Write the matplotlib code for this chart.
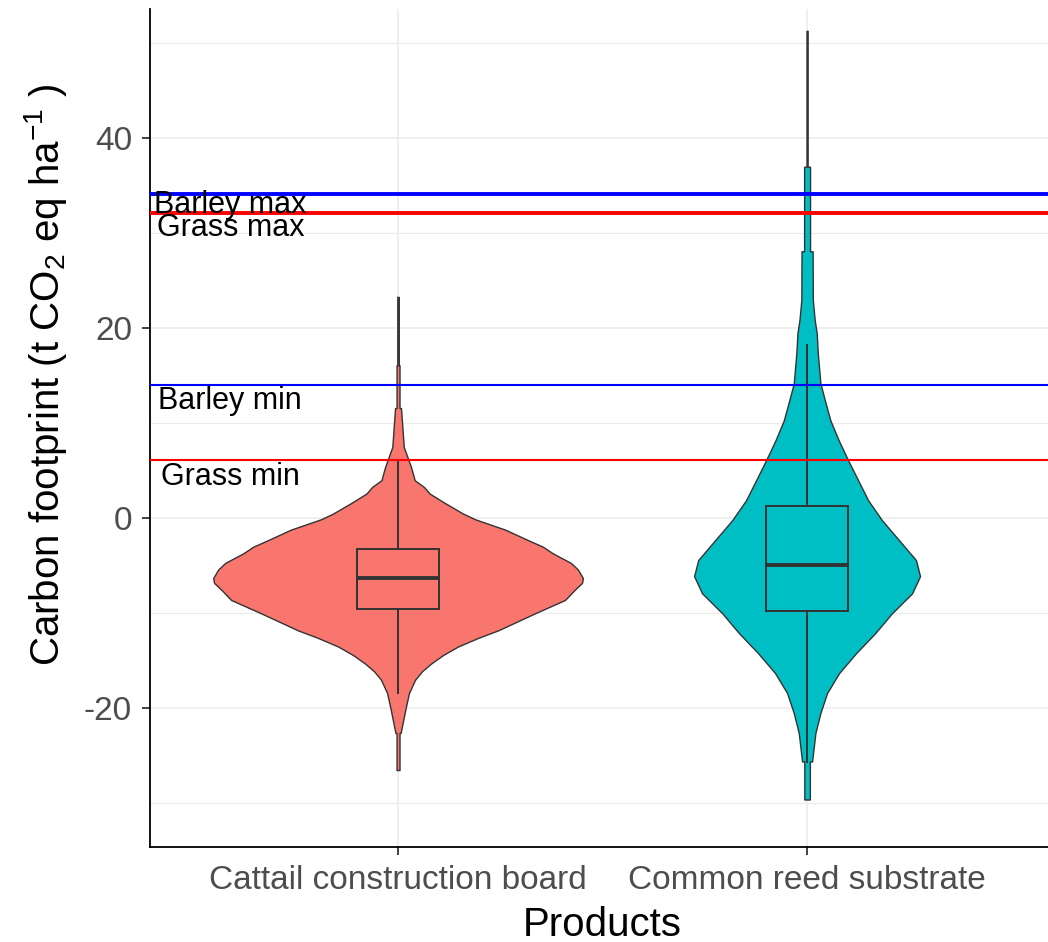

import numpy as np
import matplotlib
matplotlib.use("Agg")
import matplotlib.pyplot as plt

plt.rcParams['font.family'] = ['Liberation Sans', 'DejaVu Sans']
plt.rcParams['mathtext.fontset'] = 'custom'
plt.rcParams['mathtext.rm'] = 'Liberation Sans'
plt.rcParams['mathtext.it'] = 'Liberation Sans:italic'
plt.rcParams['mathtext.bf'] = 'Liberation Sans:bold'
plt.rcParams['axes.unicode_minus'] = False

# 产品类别与颜色
products = ['Cattail construction board', 'Common reed substrate']
colors = ['#F8766D', '#00BFC4']

# 小提琴轮廓：y 值与相对密度
cattail_y = [23.3, 16.1, 16.1, 11.6, 11.6, 7.5, 6.1, 5.4, 4.0, 3.3, 2.6, 1.6,
             0.5, -0.1, -1.2, -2.3, -3.0, -3.7, -4.7, -5.4, -6.3, -6.8, -7.5,
             -8.6, -10.0, -11.8, -12.6, -13.5, -14.4, -15.3, -16.1, -17.0,
             -18.4, -20.0, -22.6, -22.6, -26.5]
cattail_dens = [0.004, 0.004, 0.008, 0.008, 0.016, 0.031, 0.057, 0.070, 0.090,
                0.140, 0.171, 0.254, 0.351, 0.416, 0.580, 0.703, 0.784, 0.838,
                0.935, 0.973, 1.000, 0.995, 0.957, 0.903, 0.741, 0.541, 0.432,
                0.324, 0.243, 0.178, 0.130, 0.092, 0.059, 0.041, 0.014, 0.008,
                0.008]

reed_y = [51.3, 37.0, 37.0, 28.1, 28.1, 23.0, 20.9, 19.5, 17.4, 14.2, 12.5, 10.3,
          8.2, 6.1, 4.0, 1.9, -0.2, -2.3, -4.4, -6.1, -7.9, -10.0, -12.1, -14.2,
          -16.3, -18.4, -20.5, -22.6, -25.6, -25.6, -29.6]
reed_dens = [0.003, 0.003, 0.016, 0.016, 0.030, 0.031, 0.041, 0.052, 0.058,
             0.072, 0.095, 0.126, 0.171, 0.222, 0.276, 0.330, 0.405, 0.497,
             0.589, 0.611, 0.568, 0.459, 0.368, 0.265, 0.173, 0.108, 0.072,
             0.045, 0.027, 0.015, 0.015]

# 箱线图统计量
box_q1 = [-9.6, -9.8]
box_med = [-6.25, -4.9]
box_q3 = [-3.25, 1.3]
box_lo = [-18.4, -25.7]
box_hi = [6.0, 18.2]

# 参考线
ref_labels = ['Barley max', 'Grass max', 'Barley min', 'Grass min']
ref_values = [34.1, 32.1, 14.0, 6.1]
ref_colors = ['#0000FF', '#FF0000', '#0000FF', '#FF0000']
ref_widths = [2.8, 2.8, 1.5, 1.5]
label_baselines = [32.1, 29.7, 11.5, 3.5]

fig = plt.figure(figsize=(10.48, 9.42), dpi=100)
ax = fig.add_axes([150 / 1048, 1 - 847 / 942, 898 / 1048, 838 / 942])

# 网格
for v in [-20, 0, 20, 40]:
    ax.axhline(v, color='#EBEBEB', lw=1.1, zorder=0)
for v in [-30, -10, 10, 30, 50]:
    ax.axhline(v, color='#EBEBEB', lw=0.8, zorder=0)
for v in [1, 2]:
    ax.axvline(v, color='#EBEBEB', lw=1.1, zorder=0)

# 小提琴
half_width = 0.452
profiles = [(cattail_y, cattail_dens), (reed_y, reed_dens)]
for i, (yy, dd) in enumerate(profiles):
    pos = i + 1
    yy = np.array(yy)
    ww = np.array(dd) * half_width
    ax.fill_betweenx(yy, pos - ww, pos + ww, facecolor=colors[i],
                     edgecolor='#333333', linewidth=1.0, zorder=2)

# 箱线图
stats = []
for i in range(len(products)):
    stats.append({'med': box_med[i], 'q1': box_q1[i], 'q3': box_q3[i],
                  'whislo': box_lo[i], 'whishi': box_hi[i], 'fliers': []})
bp = ax.bxp(stats, positions=[1, 2], widths=0.2, patch_artist=True,
            showcaps=False, showfliers=False,
            boxprops=dict(edgecolor='#333333', linewidth=1.4),
            medianprops=dict(color='#333333', linewidth=2.8),
            whiskerprops=dict(color='#333333', linewidth=1.4),
            zorder=3)
for patch, c in zip(bp['boxes'], colors):
    patch.set_facecolor(c)

# 参考线与标注
for val, c, lw in zip(ref_values, ref_colors, ref_widths):
    ax.axhline(val, color=c, lw=lw, zorder=4)
for lab, yb in zip(ref_labels, label_baselines):
    ax.text(0.59, yb, lab, ha='center', va='baseline', fontsize=22,
            color='black', zorder=5)

ax.set_xlim(0.3936, 2.589)
ax.set_ylim(-34.6, 53.6)
ax.set_xticks([1, 2])
ax.set_xticklabels(products)
ax.set_yticks([-20, 0, 20, 40])
ax.set_yticklabels(['-20', '0', '20', '40'])
ax.tick_params(axis='both', colors='#333333', length=6, width=1.3,
               labelsize=24, labelcolor='#4D4D4D', pad=7)

for s in ['top', 'right']:
    ax.spines[s].set_visible(False)
for s in ['left', 'bottom']:
    ax.spines[s].set_color('black')
    ax.spines[s].set_linewidth(1.3)

fig.text(0.5745, 1 - 935.7 / 942, 'Products', ha='center', va='baseline',
         fontsize=29, color='black')
fig.text(46 / 1048, 1 - 374.5 / 942,
         r'Carbon footprint (t CO$_2$ eq ha$^{-1}$ )',
         rotation=90, ha='center', va='center', fontsize=29, color='black')

fig.savefig('out.png', dpi=100)
